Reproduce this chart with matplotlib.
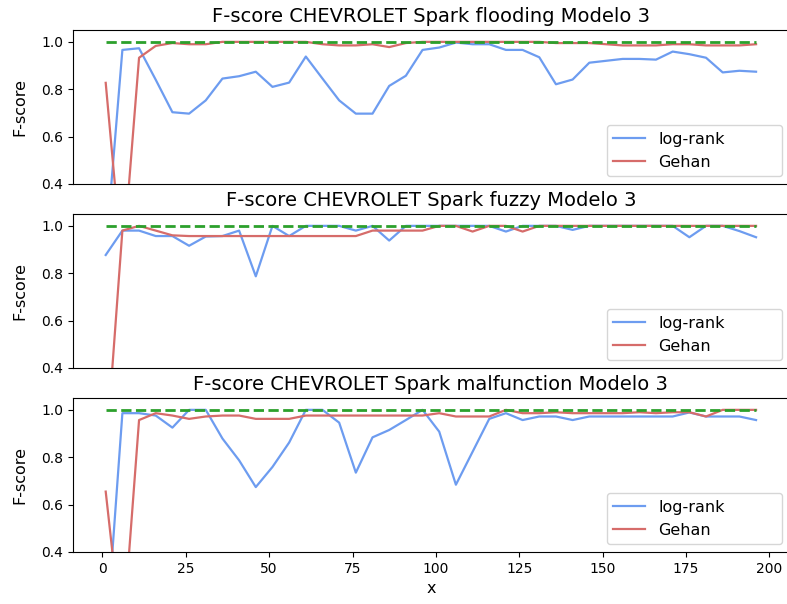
import matplotlib
matplotlib.use('Agg')
import matplotlib.pyplot as plt

x = list(range(1, 200, 5))

titulos = ['F-score CHEVROLET Spark flooding Modelo 3',
           'F-score CHEVROLET Spark fuzzy Modelo 3',
           'F-score CHEVROLET Spark malfunction Modelo 3']

# flooding
logrank_flooding = [0.11, 0.966, 0.973, 0.84, 0.703, 0.697, 0.753, 0.845, 0.855, 0.874,
                    0.81, 0.828, 0.938, 0.845, 0.753, 0.697, 0.697, 0.814, 0.857, 0.966,
                    0.976, 0.997, 0.99, 0.99, 0.966, 0.966, 0.935, 0.821, 0.841, 0.912,
                    0.92, 0.928, 0.928, 0.925, 0.959, 0.948, 0.933, 0.871, 0.878, 0.874]
gehan_flooding = [0.827, 0.05, 0.933, 0.983, 0.995, 0.99, 0.99, 1.0, 1.0, 1.0,
                  1.0, 1.0, 1.0, 0.99, 0.985, 0.985, 0.99, 0.978, 0.995, 1.0,
                  1.0, 1.0, 1.0, 1.0, 1.0, 1.0, 1.0, 0.995, 0.995, 0.995,
                  0.99, 0.985, 0.985, 0.985, 0.99, 0.99, 0.985, 0.985, 0.985, 0.99]

# fuzzy
logrank_fuzzy = [0.877, 0.98, 0.98, 0.957, 0.957, 0.916, 0.955, 0.957, 0.98, 0.787,
                 1.0, 0.957, 1.0, 1.0, 1.0, 0.98, 1.0, 0.938, 1.0, 1.0,
                 1.0, 1.0, 1.0, 1.0, 0.976, 1.0, 1.0, 1.0, 0.983, 1.0,
                 1.0, 1.0, 1.0, 1.0, 1.0, 0.952, 1.0, 1.0, 0.978, 0.952]
gehan_fuzzy = [0.02, 0.98, 1.0, 0.98, 0.96, 0.957, 0.957, 0.957, 0.957, 0.957,
               0.957, 0.957, 0.957, 0.957, 0.957, 0.957, 0.98, 0.98, 0.98, 0.98,
               1.0, 1.0, 0.976, 1.0, 1.0, 0.976, 1.0, 1.0, 1.0, 1.0,
               1.0, 1.0, 1.0, 1.0, 1.0, 1.0, 1.0, 1.0, 1.0, 1.0]

# malfunction
logrank_malfunction = [0.01, 0.986, 0.986, 0.976, 0.925, 1.0, 1.0, 0.879, 0.787, 0.674,
                       0.759, 0.862, 1.0, 1.0, 0.946, 0.735, 0.884, 0.915, 0.957, 1.0,
                       0.908, 0.684, 0.823, 0.962, 0.986, 0.957, 0.972, 0.972, 0.957, 0.972,
                       0.972, 0.972, 0.972, 0.972, 0.972, 0.989, 0.972, 0.972, 0.972, 0.957]
gehan_malfunction = [0.655, 0.02, 0.957, 0.986, 0.976, 0.962, 0.972, 0.976, 0.976, 0.962,
                     0.962, 0.962, 0.976, 0.976, 0.976, 0.976, 0.976, 0.976, 0.976, 0.976,
                     0.986, 0.972, 0.972, 0.972, 1.0, 0.986, 0.986, 0.99, 0.986, 0.986,
                     0.986, 0.986, 0.99, 0.986, 0.99, 0.99, 0.972, 1.0, 1.0, 1.0]

referencia = [1.0] * len(x)

series = [(logrank_flooding, gehan_flooding),
          (logrank_fuzzy, gehan_fuzzy),
          (logrank_malfunction, gehan_malfunction)]

fig, axes = plt.subplots(3, 1, figsize=(7.87, 6.04), dpi=100, sharex=True)
fig.subplots_adjust(left=0.093, right=1.002, top=0.9503, bottom=0.0861, hspace=0.195)

for ax, titulo, (lr, gh) in zip(axes, titulos, series):
    ax.plot(x, lr, color='#6d9cf0', lw=1.6, label='log-rank')
    ax.plot(x, gh, color='#d66c6a', lw=1.6, label='Gehan')
    ax.plot(x, referencia, color='#2ca02c', lw=2, ls='--')
    ax.set_ylim(0.4, 1.05)
    ax.set_title(titulo, fontsize=14)
    ax.set_ylabel('F-score', fontsize=11.5, labelpad=10)
    ax.tick_params(labelsize=10)
    ax.legend(loc='lower right', fontsize=11.5, mode='expand',
              bbox_to_anchor=(0.735, 0.0, 0.267, 1.0))

for ax in axes[:-1]:
    ax.tick_params(axis='x', bottom=False, labelbottom=False)
axes[-1].set_xlabel('x', fontsize=11.5)

plt.savefig('out.png', dpi=100)
